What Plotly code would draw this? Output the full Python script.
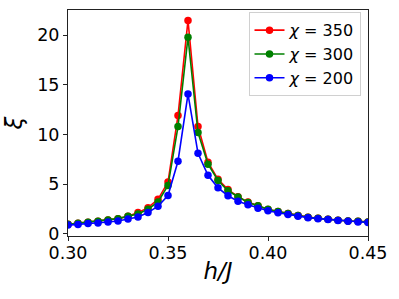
import plotly.graph_objects as go

h = [0.300, 0.305, 0.310, 0.315, 0.320, 0.325, 0.330, 0.335, 0.340, 0.345,
     0.350, 0.355, 0.360, 0.365, 0.370, 0.375, 0.380, 0.385, 0.390, 0.395,
     0.400, 0.405, 0.410, 0.415, 0.420, 0.425, 0.430, 0.435, 0.440, 0.445, 0.450]

xi_350 = [0.94, 1.04, 1.14, 1.24, 1.38, 1.51, 1.75, 2.12, 2.62, 3.46,
          5.20, 11.9, 21.5, 10.8, 7.20, 5.48, 4.44, 3.72, 3.18, 2.80,
          2.44, 2.22, 2.02, 1.82, 1.66, 1.55, 1.44, 1.34, 1.28, 1.24, 1.18]

xi_300 = [0.94, 1.04, 1.14, 1.24, 1.38, 1.51, 1.75, 1.99, 2.46, 3.20,
          4.85, 10.8, 19.8, 10.2, 7.00, 5.36, 4.32, 3.70, 3.14, 2.80,
          2.46, 2.22, 2.02, 1.82, 1.65, 1.55, 1.44, 1.34, 1.28, 1.24, 1.17]

xi_200 = [0.86, 0.92, 1.01, 1.08, 1.17, 1.28, 1.48, 1.68, 2.12, 2.76,
          3.84, 7.30, 14.07, 8.10, 5.88, 4.62, 3.82, 3.26, 2.90, 2.56,
          2.30, 2.10, 1.92, 1.75, 1.61, 1.51, 1.42, 1.32, 1.25, 1.18, 1.12]

series = [("350", xi_350, "#ff0000"),
          ("300", xi_300, "#008000"),
          ("200", xi_200, "#0000ff")]

fig = go.Figure()
for chi, vals, col in series:
    fig.add_trace(go.Scatter(
        x=h, y=vals, mode="lines+markers", name="<i>χ</i> = " + chi,
        line=dict(color=col, width=1.6),
        marker=dict(color=col, size=7.5, symbol="circle"),
    ))

axis_common = dict(
    showline=True, linecolor="#222222", linewidth=1, mirror=True,
    ticks="outside", ticklen=4, tickcolor="#222222",
    showgrid=False, zeroline=False, automargin=False,
    tickfont=dict(family="DejaVu Sans", size=17.5, color="black"),
)

fig.update_layout(
    width=399, height=299,
    margin=dict(l=68, r=31, t=10, b=63),
    paper_bgcolor="white", plot_bgcolor="white",
    xaxis=dict(range=[0.30, 0.45], tickvals=[0.30, 0.35, 0.40, 0.45],
               tickformat=".2f", ticklabelstandoff=-3,
               title=dict(text="<i>h/J</i>", standoff=0,
                          font=dict(family="DejaVu Sans", size=23, color="black")),
               **axis_common),
    yaxis=dict(range=[-0.24, 22.55], tickvals=[0, 5, 10, 15, 20],
               title=dict(text="<i>ξ</i>", standoff=8,
                          font=dict(family="DejaVu Sans", size=23, color="black")),
               **axis_common),
    legend=dict(x=0.975, y=0.99, xanchor="right", yanchor="top",
                bgcolor="rgba(255,255,255,0.8)", bordercolor="#d0d0d0", borderwidth=1,
                font=dict(family="DejaVu Sans", size=16, color="black"),
                itemwidth=30, tracegroupgap=0),
    showlegend=True,
)

fig.write_html("out.html", config={"displayModeBar": False},
               post_script="document.body.style.margin='0';document.body.style.overflow='hidden';")
